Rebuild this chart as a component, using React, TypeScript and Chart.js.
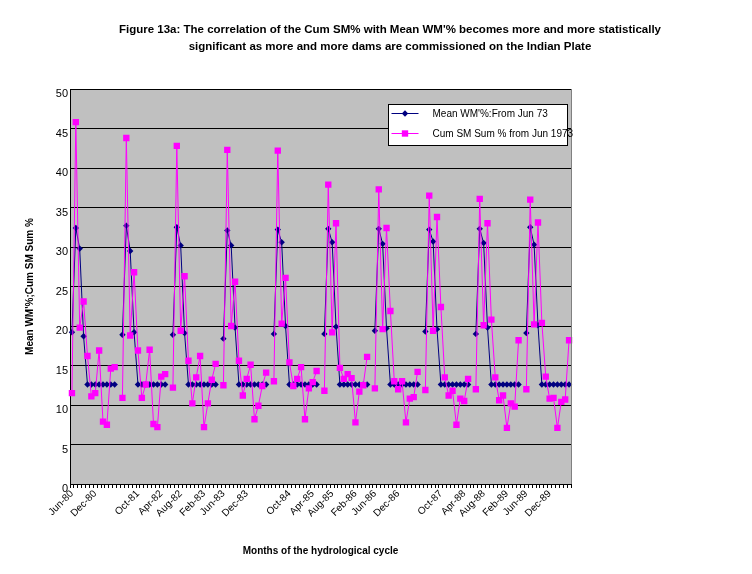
import { useEffect, useRef } from "react";
import { Chart, registerables } from "chart.js";
import type { Plugin } from "chart.js";

Chart.register(...registerables);

const FONT = "Arial, 'Liberation Sans', sans-serif";

// hydrological years start in June; a blank category separates the years
const hydroYears = [1980, 1981, 1982, 1983, 1984, 1985, 1986, 1987, 1988, 1989];
const monthNames = ["Jun", "Jul", "Aug", "Sep", "Oct", "Nov", "Dec", "Jan", "Feb", "Mar", "Apr", "May"];

const shownLabels = [
  "Jun-80", "Dec-80", "Oct-81", "Apr-82", "Aug-82", "Feb-83", "Jun-83", "Dec-83",
  "Oct-84", "Apr-85", "Aug-85", "Feb-86", "Jun-86", "Dec-86",
  "Oct-87", "Apr-88", "Aug-88", "Feb-89", "Jun-89", "Dec-89",
];

const meanWM = [
  19.2, 32.4, 29.8, 18.7, 12.6, 12.6, 12.6, 12.6, 12.6, 12.6, 12.6, 12.6, null,
  18.9, 32.7, 29.5, 19.2, 12.6, 12.6, 12.6, 12.6, 12.6, 12.6, 12.6, 12.6, null,
  18.9, 32.5, 30.2, 19.1, 12.6, 12.6, 12.6, 12.6, 12.6, 12.6, 12.6, 12.6, null,
  18.4, 32.1, 30.2, 19.8, 12.6, 12.6, 12.6, 12.6, 12.6, 12.6, 12.6, 12.6, null,
  19.0, 32.2, 30.6, 20.0, 12.6, 12.6, 12.6, 12.6, 12.6, 12.6, 12.6, 12.6, null,
  19.0, 32.3, 30.6, 19.9, 12.6, 12.6, 12.6, 12.6, 12.6, 12.6, 12.6, 12.6, null,
  19.4, 32.3, 30.4, 19.7, 12.6, 12.6, 12.6, 12.6, 12.6, 12.6, 12.6, 12.6, null,
  19.3, 32.2, 30.7, 19.6, 12.6, 12.6, 12.6, 12.6, 12.6, 12.6, 12.6, 12.6, null,
  19.0, 32.3, 30.5, 19.8, 12.6, 12.6, 12.6, 12.6, 12.6, 12.6, 12.6, 12.6, null,
  19.1, 32.5, 30.3, 20.1, 12.6, 12.6, 12.6, 12.6, 12.6, 12.6, 12.6, 12.6,
];

const cumSM = [
  11.5, 45.8, 19.8, 23.1, 16.2, 11.1, 11.5, 16.9, 7.9, 7.5, 14.6, 14.8, null,
  10.9, 43.8, 18.8, 26.8, 16.9, 10.9, 12.6, 17.0, 7.6, 7.2, 13.6, 13.9, null,
  12.2, 42.8, 19.4, 26.3, 15.6, 10.2, 13.5, 16.2, 7.2, 10.2, 13.2, 15.2, null,
  12.5, 42.3, 20.0, 25.6, 15.6, 11.2, 13.3, 15.1, 8.2, 9.9, 12.4, 14.1, null,
  13.0, 42.2, 20.3, 26.1, 15.4, 12.4, 13.3, 14.8, 8.2, 12.1, 12.9, 14.3, null,
  11.8, 37.9, 19.2, 33.0, 14.7, 13.3, 13.9, 13.4, 7.8, 11.7, 12.5, 16.1, null,
  12.1, 37.3, 19.6, 32.4, 21.9, 13.0, 12.0, 13.0, 7.8, 10.8, 11.0, 14.2, null,
  11.9, 36.5, 19.4, 33.8, 22.4, 13.5, 11.2, 11.8, 7.5, 10.8, 10.5, 13.3, null,
  12.0, 36.1, 20.1, 33.0, 20.8, 13.5, 10.6, 11.2, 7.1, 10.2, 9.8, 18.2, null,
  12.0, 36.0, 20.2, 33.1, 20.4, 13.6, 10.8, 10.9, 7.1, 10.4, 10.7, 18.2,
];

const categories = hydroYears.flatMap((y, i) => {
  const months = monthNames.map(
    (m, k) => `${m}-${String((k < 7 ? y : y + 1) % 100).padStart(2, "0")}`
  );
  return i < hydroYears.length - 1 ? [...months, ""] : months;
});

const plotBackground: Plugin<"line"> = {
  id: "plotBackground",
  beforeDraw(chart) {
    const { ctx, chartArea: a } = chart;
    ctx.save();
    ctx.fillStyle = "#c0c0c0";
    ctx.fillRect(a.left, a.top, a.right - a.left, a.bottom - a.top);
    ctx.restore();
  },
  afterDraw(chart) {
    const { ctx, chartArea: a } = chart;
    ctx.save();
    ctx.strokeStyle = "#808080";
    ctx.lineWidth = 1;
    ctx.beginPath();
    ctx.moveTo(Math.round(a.right) + 0.5, a.top);
    ctx.lineTo(Math.round(a.right) + 0.5, a.bottom);
    ctx.stroke();
    ctx.restore();
  },
};

// Excel-like legend box sitting inside the plot area
const boxLegend: Plugin<"line"> = {
  id: "boxLegend",
  afterDraw(chart) {
    const { ctx } = chart;
    const x = 388.5, y = 104.5, w = 179, h = 41;
    ctx.save();
    ctx.fillStyle = "#fff";
    ctx.fillRect(x, y, w, h);
    chart.data.datasets.forEach((ds: any, i) => {
      const cy = y + 9 + i * 20;
      ctx.strokeStyle = ds.borderColor;
      ctx.lineWidth = 1;
      ctx.beginPath();
      ctx.moveTo(x + 3, cy);
      ctx.lineTo(x + 30, cy);
      ctx.stroke();
      ctx.fillStyle = ds.pointBackgroundColor;
      ctx.beginPath();
      if (ds.pointStyle === "rectRot") {
        const r = ds.pointRadius;
        ctx.moveTo(x + 16.5, cy - r);
        ctx.lineTo(x + 16.5 + r, cy);
        ctx.lineTo(x + 16.5, cy + r);
        ctx.lineTo(x + 16.5 - r, cy);
        ctx.closePath();
      } else {
        const s = ds.pointRadius * Math.SQRT1_2;
        ctx.rect(x + 16.5 - s, cy - s, 2 * s, 2 * s);
      }
      ctx.fill();
      ctx.fillStyle = "#000";
      ctx.font = `10px ${FONT}`;
      ctx.textBaseline = "middle";
      ctx.fillText(ds.label, x + 44, cy + 1);
    });
    ctx.strokeStyle = "#000";
    ctx.strokeRect(x, y, w, h);
    ctx.restore();
  },
};

export default function App() {
  const chartRef = useRef<HTMLCanvasElement>(null);
  const chartInstance = useRef<Chart | null>(null);

  useEffect(() => {
    if (!chartRef.current) return;
    const ctx = chartRef.current.getContext("2d");
    if (!ctx) return;

    Chart.defaults.font.family = FONT;

    if (chartInstance.current) {
      chartInstance.current.destroy();
    }

    chartInstance.current = new Chart(ctx, {
      type: "line",
      data: {
        labels: categories,
        datasets: [
          {
            label: "Mean WM'%:From Jun 73",
            data: meanWM,
            borderColor: "#000080",
            backgroundColor: "#000080",
            pointBackgroundColor: "#000080",
            pointBorderColor: "#000080",
            pointStyle: "rectRot",
            pointRadius: 3.2,
            pointBorderWidth: 0,
            borderWidth: 1,
            order: 1,
          },
          {
            label: "Cum SM Sum % from Jun 1973",
            data: cumSM,
            borderColor: "#ff00ff",
            backgroundColor: "#ff00ff",
            pointBackgroundColor: "#ff00ff",
            pointBorderColor: "#ff00ff",
            pointStyle: "rect",
            pointRadius: 4.5,
            pointBorderWidth: 0,
            borderWidth: 1,
            order: 0,
          },
        ],
      },
      options: {
        responsive: false,
        animation: false,
        events: [],
        spanGaps: false,
        layout: { padding: { top: 89, right: 181, left: 0, bottom: 0 } },
        plugins: {
          legend: { display: false },
          tooltip: { enabled: false },
        },
        scales: {
          x: {
            offset: true,
            grid: {
              drawOnChartArea: false,
              drawTicks: true,
              tickLength: 4,
              color: "#000",
              offset: true,
            },
            border: { color: "#000" },
            ticks: {
              autoSkip: false,
              maxRotation: 45,
              minRotation: 45,
              padding: 0,
              color: "#000",
              font: { size: 10 },
              callback: (_v, i) => (shownLabels.includes(categories[i]) ? categories[i] : ""),
            },
            title: {
              display: true,
              text: "Months of the hydrological cycle",
              color: "#000",
              font: { size: 10, weight: "bold" },
              padding: { top: 0, bottom: 17 },
            },
            afterFit: (s) => {
              s.height = 90;
            },
          },
          y: {
            min: 0,
            max: 50,
            ticks: { stepSize: 5, color: "#000", font: { size: 11 }, padding: 2, labelOffset: 5 },
            grid: { color: "#000", drawTicks: false },
            border: { color: "#000" },
            title: {
              display: true,
              text: "Mean WM'%;Cum SM Sum %",
              color: "#000",
              font: { size: 10, weight: "bold" },
              padding: { top: 24, bottom: 0 },
            },
            afterFit: (s) => {
              s.width = 70;
            },
          },
        },
      },
      plugins: [plotBackground, boxLegend],
    });

    return () => {
      if (chartInstance.current) {
        chartInstance.current.destroy();
        chartInstance.current = null;
      }
    };
  }, []);

  return (
    <div style={{ position: "absolute", left: 0, top: 0, width: 752, height: 574, background: "#fff" }}>
      <div
        style={{
          position: "absolute",
          left: 90,
          top: 21,
          width: 600,
          textAlign: "center",
          fontFamily: FONT,
          fontWeight: "bold",
          fontSize: 11.5,
          lineHeight: "17px",
          whiteSpace: "nowrap",
          color: "#000",
        }}
      >
        Figure 13a: The correlation of the Cum SM% with Mean WM'% becomes more and more statistically
        <br />
        significant as more and more dams are commissioned on the Indian Plate
      </div>
      <canvas ref={chartRef} width={752} height={574} />
    </div>
  );
}
